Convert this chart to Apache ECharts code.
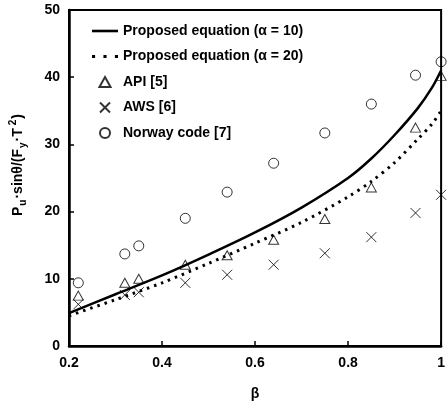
<!DOCTYPE html>
<html><head><meta charset="utf-8">
<script src="https://cdn.jsdelivr.net/npm/echarts@6/dist/echarts.min.js"></script>
<style>html,body{margin:0;padding:0;background:#fff}#c{width:448px;height:408px}</style>
</head><body><div id="c"></div>
<script>
// Data
const beta = [0.22, 0.32, 0.35, 0.45, 0.54, 0.64, 0.75, 0.85, 0.945, 1.0];
const apiVals = [7.5, 9.4, 10.0, 12.1, 13.5, 15.8, 18.9, 23.6, 32.5, 40.2];
const awsVals = [6.2, 7.6, 8.0, 9.4, 10.6, 12.1, 13.8, 16.2, 19.8, 22.5];
const norwayVals = [9.4, 13.7, 14.9, 19.0, 22.9, 27.2, 31.7, 36.0, 40.3, 42.3];
const curveBeta = [0.2, 0.3, 0.4, 0.5, 0.6, 0.7, 0.8, 0.85, 0.9, 0.95, 0.98, 1.0];
const alpha10 = [4.9, 7.7, 10.5, 13.6, 16.9, 20.6, 25.0, 27.9, 31.4, 35.4, 38.4, 41.0];
const alpha20 = [4.5, 6.9, 9.4, 12.3, 15.3, 18.4, 22.2, 24.5, 27.3, 30.8, 33.0, 35.0];
const xTicks = [0.2, 0.4, 0.6, 0.8, 1.0];
const yTicks = [0, 10, 20, 30, 40, 50];
const names = ['Proposed equation (α = 10)', 'Proposed equation (α = 20)', 'API [5]', 'AWS [6]', 'Norway code [7]'];

const pair = (xs, ys) => xs.map((x, i) => [x, ys[i]]);
const FONT = "'Liberation Sans', Arial, sans-serif";
const crossPath = 'path://M0,0L10,10M10,0L0,10';
const triPath = 'path://M5,0L10,9L0,9Z';
const hollow = { color: 'rgba(0,0,0,0)', borderColor: '#000', borderWidth: 1 };

const chart = echarts.init(document.getElementById('c'), null, { renderer: 'canvas' });
chart.setOption({
  animation: false,
  backgroundColor: '#fff',
  grid: { left: 63, right: 3, top: 10, bottom: 62, show: true, borderColor: '#000', borderWidth: 2 },
  legend: {
    orient: 'vertical', left: 87, top: 19, itemWidth: 26, itemHeight: 10, itemGap: 11.5,
    textStyle: { fontFamily: FONT, fontWeight: 'bold', fontSize: 14, color: '#000' },
    data: [
      { name: names[0], icon: 'path://M0,0H26V2.6H0Z' },
      { name: names[1], icon: 'path://M0,0h3v3h-3zM11,0h3v3h-3zM22,0h3v3h-3z' },
      { name: names[2], icon: triPath },
      { name: names[3], icon: crossPath },
      { name: names[4], icon: 'circle' }
    ]
  },
  xAxis: {
    type: 'value', min: xTicks[0], max: xTicks[xTicks.length - 1], interval: 0.2,
    name: 'β', nameLocation: 'middle', nameGap: 41,
    nameTextStyle: { fontFamily: FONT, fontWeight: 'bold', fontSize: 14, color: '#000' },
    axisLine: { lineStyle: { color: '#000', width: 2.5 } },
    axisTick: { inside: true, length: 5, lineStyle: { color: '#000', width: 1.5 } },
    axisLabel: { margin: 10, fontFamily: FONT, fontWeight: 'bold', fontSize: 14, color: '#000',
      formatter: v => xTicks.some(t => Math.abs(t - v) < 1e-6) ? String(+v.toFixed(1)) : '' },
    splitLine: { show: false }
  },
  yAxis: {
    type: 'value', min: yTicks[0], max: yTicks[yTicks.length - 1], interval: 10,
    name: '{a|P}{s|u}{a|·sinθ/(F}{s|y}{a|·T}{p|2}{a|)}', nameLocation: 'middle', nameGap: 41,
    nameTextStyle: {
      padding: [0, 0, 0, 26],
      rich: {
        a: { fontFamily: FONT, fontWeight: 'bold', fontSize: 14, color: '#000', lineHeight: 20 },
        s: { fontFamily: FONT, fontWeight: 'bold', fontSize: 10, color: '#000', lineHeight: 20, verticalAlign: 'bottom', padding: [0, 1, 0, 1] },
        p: { fontFamily: FONT, fontWeight: 'bold', fontSize: 10, color: '#000', lineHeight: 20, verticalAlign: 'top', padding: [0, 1, 0, 3] }
      }
    },
    axisLine: { lineStyle: { color: '#000', width: 2.5 } },
    axisTick: { inside: true, length: 5, lineStyle: { color: '#000', width: 1.5 } },
    axisLabel: { margin: 9, fontFamily: FONT, fontWeight: 'bold', fontSize: 14, color: '#000' },
    splitLine: { show: false }
  },
  series: [
    { name: names[0], type: 'line', data: pair(curveBeta, alpha10), smooth: 0.3, showSymbol: false,
      itemStyle: { color: '#000' }, lineStyle: { color: '#000', width: 2.5 }, z: 3 },
    { name: names[1], type: 'line', data: pair(curveBeta, alpha20), smooth: 0.3, showSymbol: false,
      itemStyle: { color: '#000' }, lineStyle: { color: '#000', width: 3, type: [2.5, 5], cap: 'butt' }, z: 3 },
    { name: names[2], type: 'scatter', data: pair(beta, apiVals), symbol: triPath, symbolSize: [10, 9], itemStyle: hollow, z: 4 },
    { name: names[3], type: 'scatter', data: pair(beta, awsVals), symbol: crossPath, symbolSize: 10, itemStyle: hollow, z: 4 },
    { name: names[4], type: 'scatter', data: pair(beta, norwayVals), symbol: 'circle', symbolSize: 10, itemStyle: hollow, z: 4 }
  ]
});
</script></body></html>
